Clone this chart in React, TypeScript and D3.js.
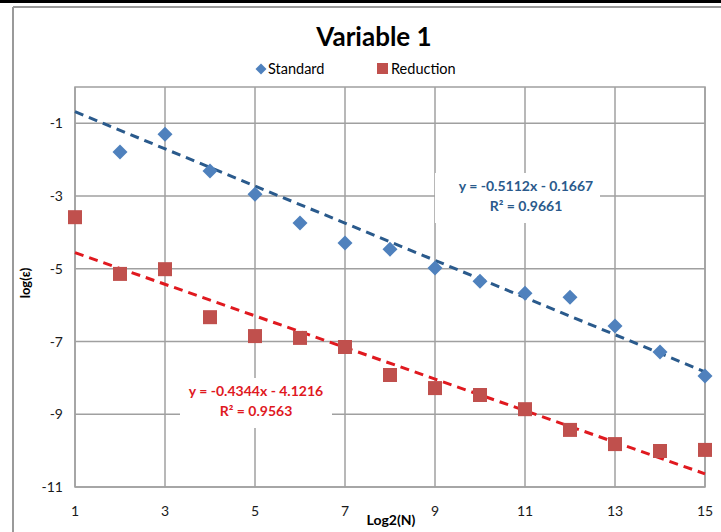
import React, { useEffect, useRef } from 'react'
import * as d3 from 'd3'

// log2(N) positions
const standardX = [2, 3, 4, 5, 6, 7, 8, 9, 10, 11, 12, 13, 14, 15]
const standardY = [-1.79, -1.3, -2.31, -2.95, -3.74, -4.29, -4.46, -4.98, -5.34, -5.67, -5.78, -6.57, -7.29, -7.95]

const reductionX = [1, 2, 3, 4, 5, 6, 7, 8, 9, 10, 11, 12, 13, 14, 15]
const reductionY = [-3.58, -5.14, -5.01, -6.33, -6.85, -6.9, -7.15, -7.92, -8.28, -8.47, -8.86, -9.43, -9.82, -10.01, -9.98]

// linear trendlines: [slope, intercept]
const standardFit = [-0.5112, -0.1667]
const reductionFit = [-0.4344, -4.1216]

const xTicks = [1, 3, 5, 7, 9, 11, 13, 15]
const yTicks = [-1, -3, -5, -7, -9, -11]

const font = 'Lato, "Open Sans", sans-serif'
const gridColor = '#a0a0a0'

// square diamond (rotated square) with half-diagonal r
const diamond = (r: number) => `M0,${-r}L${r},0L0,${r}L${-r},0Z`

export default function App() {
  const ref = useRef<SVGSVGElement>(null)
  const width = 721
  const height = 532
  const plot = { left: 75, right: 705, top: 87, bottom: 487 }

  useEffect(() => {
    const svg = d3.select(ref.current)
    svg.selectAll('*').remove()

    const x = d3.scaleLinear().domain([1, 15]).range([plot.left, plot.right])
    const y = d3.scaleLinear().domain([-11, 0]).range([plot.bottom, plot.top])

    svg.append('rect').attr('width', width).attr('height', height).attr('fill', '#fff')

    // outer frame bits
    svg.append('rect').attr('x', 0).attr('y', 0).attr('width', width).attr('height', 3).attr('fill', '#000')
    svg.append('line').attr('x1', 13).attr('x2', width).attr('y1', 7).attr('y2', 7)
      .attr('stroke', '#9a9a9a').attr('stroke-width', 2)
    svg.append('line').attr('x1', 13).attr('x2', 13).attr('y1', 7).attr('y2', height)
      .attr('stroke', '#9a9a9a').attr('stroke-width', 2)

    // gridlines
    const grid = svg.append('g').attr('stroke', gridColor).attr('stroke-width', 1.5)
    grid.selectAll('line.v').data(xTicks).enter().append('line')
      .attr('x1', d => x(d)).attr('x2', d => x(d))
      .attr('y1', plot.top).attr('y2', plot.bottom)
    grid.selectAll('line.h').data(yTicks).enter().append('line')
      .attr('x1', plot.left).attr('x2', plot.right)
      .attr('y1', d => y(d)).attr('y2', d => y(d))
    grid.append('rect')
      .attr('x', plot.left).attr('y', plot.top)
      .attr('width', plot.right - plot.left).attr('height', plot.bottom - plot.top)
      .attr('fill', 'none')

    // tick labels
    svg.append('g').selectAll('text').data(yTicks).enter().append('text')
      .attr('x', 63).attr('y', d => y(d)).attr('dy', '0.36em')
      .attr('text-anchor', 'end').attr('font-family', font).attr('font-size', 14)
      .attr('fill', '#1a1a1a').text(d => d)
    svg.append('g').selectAll('text').data(xTicks).enter().append('text')
      .attr('x', d => x(d)).attr('y', 516)
      .attr('text-anchor', 'middle').attr('font-family', font).attr('font-size', 14)
      .attr('fill', '#1a1a1a').text(d => d)

    // axis titles
    svg.append('text')
      .attr('x', 391).attr('y', 525).attr('text-anchor', 'middle')
      .attr('font-family', font).attr('font-size', 14).attr('font-weight', 'bold')
      .text('Log2(N)')
    svg.append('text')
      .attr('transform', 'translate(30,283) rotate(-90)').attr('text-anchor', 'middle')
      .attr('font-family', font).attr('font-size', 13).attr('font-weight', 'bold')
      .text('log(ε)')

    // title + legend
    svg.append('text')
      .attr('x', 374).attr('y', 46).attr('text-anchor', 'middle')
      .attr('font-family', font).attr('font-size', 26).attr('font-weight', 'bold')
      .text('Variable 1')

    const legend = svg.append('g').attr('font-family', font).attr('font-size', 14.5)
    legend.append('path')
      .attr('d', diamond(5.5))
      .attr('transform', 'translate(261,69)').attr('fill', '#4f81bd')
    legend.append('text').attr('x', 268).attr('y', 74).text('Standard')
    legend.append('rect').attr('x', 377).attr('y', 63).attr('width', 11).attr('height', 11).attr('fill', '#c0504d')
    legend.append('text').attr('x', 391).attr('y', 74).text('Reduction')

    // equation label boxes
    const labels = [
      { box: [435, 173, 165, 50], cx: 526, lines: ['y = -0.5112x - 0.1667', 'R² = 0.9661'], color: '#2a5a8c' },
      { box: [180, 378, 152, 50], cx: 256, lines: ['y = -0.4344x - 4.1216', 'R² = 0.9563'], color: '#e0191f' },
    ]
    labels.forEach(l => {
      svg.append('rect')
        .attr('x', l.box[0]).attr('y', l.box[1]).attr('width', l.box[2]).attr('height', l.box[3])
        .attr('fill', '#fff')
      l.lines.forEach((t, i) => {
        svg.append('text')
          .attr('x', l.cx).attr('y', l.box[1] + 18 + i * 20).attr('text-anchor', 'middle')
          .attr('font-family', font).attr('font-size', 14).attr('font-weight', 'bold')
          .attr('fill', l.color).text(t)
      })
    })

    // trendlines
    const line = d3.line<number>().x(d => x(d))
    svg.append('path')
      .datum([1, 15])
      .attr('d', line.y(d => y(standardFit[0] * d + standardFit[1])))
      .attr('fill', 'none').attr('stroke', '#2a5a8c').attr('stroke-width', 3)
      .attr('stroke-dasharray', '9,6')
    svg.append('path')
      .datum([1, 15])
      .attr('d', line.y(d => y(reductionFit[0] * d + reductionFit[1])))
      .attr('fill', 'none').attr('stroke', '#e0191f').attr('stroke-width', 3)
      .attr('stroke-dasharray', '9,6')

    // markers
    svg.append('g').selectAll('path').data(standardX).enter().append('path')
      .attr('d', diamond(7.5))
      .attr('transform', (d, i) => `translate(${x(d)},${y(standardY[i])})`)
      .attr('fill', '#4f81bd')
    svg.append('g').selectAll('rect').data(reductionX).enter().append('rect')
      .attr('x', d => x(d) - 7).attr('y', (d, i) => y(reductionY[i]) - 7)
      .attr('width', 14).attr('height', 14)
      .attr('fill', '#c0504d')
  }, [])

  return (
    <svg ref={ref} width={width} height={height}
      style={{ position: 'absolute', left: 0, top: 0, display: 'block' }} />
  )
}
